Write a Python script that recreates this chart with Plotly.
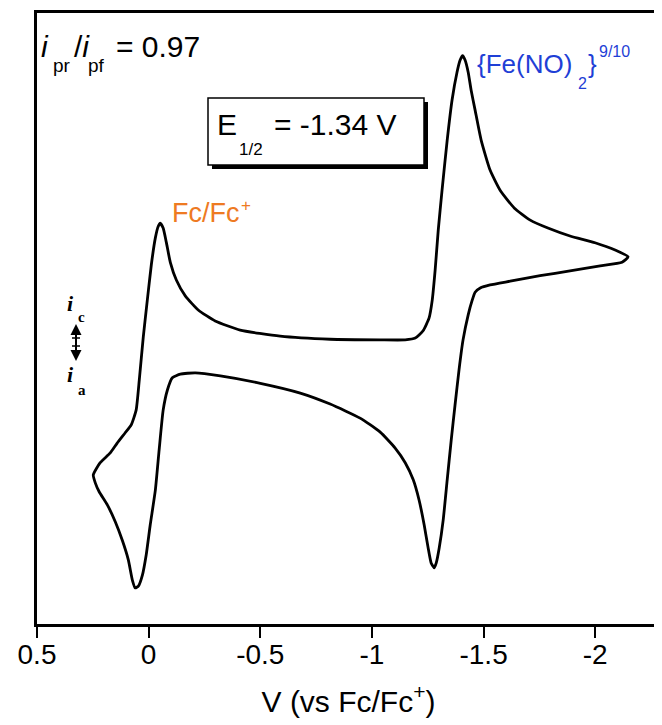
import plotly.graph_objects as go

# Cyclic voltammogram, potential (V vs Fc/Fc+) and current (arbitrary units)
potential_v = [
    0.248, 0.217, 0.172, 0.141, 0.105, 0.078, 0.056, 0.042, 0.024, 0.006,
    -0.012, -0.030, -0.043, -0.052, -0.065, -0.079, -0.097, -0.124, -0.164, -0.222,
    -0.298, -0.410, -0.589, -0.813, -1.037, -1.149, -1.194, -1.229, -1.256, -1.270,
    -1.283, -1.297, -1.314, -1.337, -1.359, -1.381, -1.395, -1.406, -1.417, -1.431,
    -1.444, -1.462, -1.489, -1.529, -1.574, -1.637, -1.709, -1.788, -1.887, -1.999,
    -2.089, -2.147,
    -2.120, -2.022, -1.887, -1.753, -1.619, -1.529, -1.485, -1.462, -1.449, -1.431,
    -1.408, -1.390, -1.372, -1.355, -1.337, -1.319, -1.301, -1.288, -1.279, -1.265,
    -1.251, -1.234, -1.211, -1.185, -1.149, -1.104, -1.037, -0.947, -0.813, -0.679,
    -0.500, -0.321, -0.209, -0.142, -0.106, -0.084, -0.065, -0.047, -0.030, -0.007,
    0.011, 0.028, 0.046, 0.060, 0.073, 0.091, 0.118, 0.149, 0.185, 0.221,
    0.239, 0.248,
]
current_au = [
    24.4, 26.4, 28.0, 29.6, 31.3, 32.6, 35.0, 39.9, 47.0, 53.0,
    58.8, 63.2, 65.1, 65.6, 64.8, 62.5, 59.2, 56.3, 53.7, 51.4,
    49.6, 48.1, 47.1, 46.6, 46.5, 46.5, 46.8, 48.0, 50.1, 53.0,
    57.9, 64.5, 71.0, 79.2, 85.8, 90.3, 92.3, 93.0, 92.3, 90.3,
    87.4, 84.1, 79.2, 74.3, 71.0, 68.1, 66.1, 64.8, 63.5, 62.4,
    61.2, 60.1,
    59.2, 58.6, 57.8, 57.0, 56.1, 55.5, 55.0, 54.3, 53.0, 50.6,
    46.5, 41.6, 35.8, 30.1, 23.6, 17.0, 12.4, 10.0, 9.2, 10.0,
    12.6, 16.2, 20.3, 23.6, 26.4, 28.8, 31.4, 33.7, 36.0, 37.8,
    39.4, 40.6, 41.1, 40.9, 40.3, 38.3, 35.0, 28.5, 21.9, 16.2,
    11.3, 8.0, 6.2, 5.9, 7.2, 10.5, 13.7, 16.7, 19.5, 21.6,
    23.1, 24.4,
]

tick_vals = [0.5, 0, -0.5, -1, -1.5, -2]
tick_text = ["0.5", "0", "-0.5", "-1", "-1.5", "-2"]

# page has an 8 px body margin; figure sized to fit inside the window
OFF = 8
W, H = 654, 717
ML, MR, MT, MB = 29, 2, 5, 101
PW, PH = W - ML - MR, H - MT - MB


def px(x):
    return (x - OFF - ML) / PW


def py(y):
    return (H - MB - (y - OFF)) / PH


FONT = "Liberation Sans, Arial, Helvetica, sans-serif"
SERIF = "Liberation Serif, Times New Roman, serif"
ORANGE = "#EE7A22"
BLUE = "#1F3FD6"

fig = go.Figure()
fig.add_trace(go.Scatter(
    x=potential_v, y=current_au, mode="lines",
    line=dict(color="black", width=2.8, shape="spline", smoothing=0.5),
    hoverinfo="skip", showlegend=False,
))

shapes = [
    # shadow of E1/2 box
    dict(type="rect", xref="paper", yref="paper",
         x0=px(212), x1=px(428), y0=py(169), y1=py(102),
         fillcolor="black", line=dict(width=0), layer="above"),
    dict(type="rect", xref="paper", yref="paper",
         x0=px(208), x1=px(424), y0=py(165), y1=py(98),
         fillcolor="white", line=dict(color="black", width=1.5), layer="above"),
    # shaft and crossbars of the current-direction arrow
    dict(type="line", xref="paper", yref="paper",
         x0=px(76), x1=px(76), y0=py(330), y1=py(355),
         line=dict(color="black", width=2), layer="above"),
    dict(type="line", xref="paper", yref="paper",
         x0=px(72), x1=px(80), y0=py(338), y1=py(338),
         line=dict(color="black", width=1.5), layer="above"),
    dict(type="line", xref="paper", yref="paper",
         x0=px(72), x1=px(80), y0=py(346), y1=py(346),
         line=dict(color="black", width=1.5), layer="above"),
]


def txt(text, x, y, size, color="black", family=FONT, anchor="left"):
    return dict(text=text, x=px(x), y=py(y), xref="paper", yref="paper",
                xanchor=anchor, yanchor="middle", showarrow=False,
                borderpad=0, font=dict(family=family, size=size, color=color))


annotations = [
    # i_pr / i_pf = 0.97
    txt("<i>i</i>", 40, 46.6, 30),
    txt("pr", 52, 66, 19),
    txt("/<i>i</i>", 73, 46.6, 30),
    txt("pf", 87, 66, 19),
    txt("= 0.97", 115, 46.6, 30),
    # E1/2 box text
    txt("E", 216, 124.6, 30),
    txt("1/2", 238, 149, 17),
    txt("= -1.34 V", 273, 124.6, 30),
    # Fc/Fc+
    txt("Fc/Fc", 171, 212.6, 27, ORANGE),
    txt("+", 240, 206, 17, ORANGE),
    # {Fe(NO)2}9/10
    txt("{Fe(NO)", 476, 64, 26, BLUE),
    txt("2", 577, 83.5, 16, BLUE),
    txt("}", 587, 64, 26, BLUE),
    txt("9/10", 598, 51.6, 16, BLUE),
    # current direction indicator
    txt("<b><i>i</i></b>", 66, 303, 22, family=SERIF),
    txt("<b>c</b>", 77, 317, 15, family=SERIF),
    txt("<b><i>i</i></b>", 66, 374, 22, family=SERIF),
    txt("<b>a</b>", 77, 390, 15, family=SERIF),
    dict(text="", x=px(76), y=py(324), ax=0, ay=10,
         xref="paper", yref="paper", axref="pixel", ayref="pixel",
         showarrow=True, arrowhead=2, arrowsize=1.1, arrowwidth=2,
         arrowcolor="black"),
    dict(text="", x=px(76), y=py(361), ax=0, ay=-10,
         xref="paper", yref="paper", axref="pixel", ayref="pixel",
         showarrow=True, arrowhead=2, arrowsize=1.1, arrowwidth=2,
         arrowcolor="black"),
]

fig.update_layout(
    width=W, height=H,
    margin=dict(l=ML, r=MR, t=MT, b=MB, pad=0),
    paper_bgcolor="white", plot_bgcolor="white",
    shapes=shapes, annotations=annotations,
    font=dict(family=FONT, color="black"),
    xaxis=dict(
        range=[0.5, -2.29], tickvals=tick_vals, ticktext=tick_text,
        ticks="outside", ticklen=11, tickwidth=2, tickcolor="black",
        ticklabelstandoff=-7,
        showline=True, linecolor="black", linewidth=2.5, mirror=True,
        showgrid=False, zeroline=False, automargin=False,
        tickfont=dict(family=FONT, size=28, color="black"),
        title=dict(text="V (vs Fc/Fc<sup>+</sup>)", standoff=22,
                   font=dict(family=FONT, size=30, color="black")),
    ),
    yaxis=dict(
        range=[0, 100], showticklabels=False, ticks="",
        showline=True, linecolor="black", linewidth=2.5, mirror=True,
        showgrid=False, zeroline=False, automargin=False,
    ),
)

fig.write_html("out.html")
